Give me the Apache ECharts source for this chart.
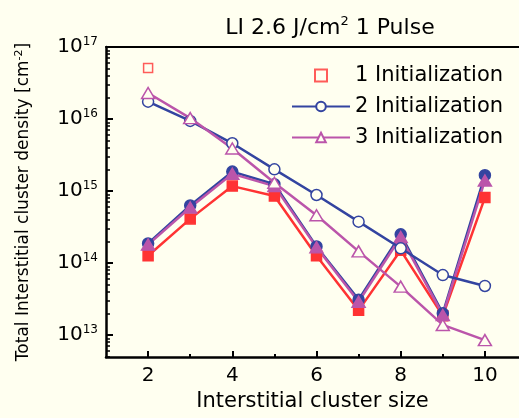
<!DOCTYPE html>
<html>
<head>
<meta charset="utf-8">
<script src="https://cdn.jsdelivr.net/npm/echarts@6/dist/echarts.min.js"></script>
<style>
html,body{margin:0;padding:0;background:#fffff0;}
#chart{width:519px;height:418px;}
</style>
</head>
<body>
<div id="chart"></div>
<script>
// ---- data ----
const xs = [2, 3, 4, 5, 6, 7, 8, 9, 10];
const init1OpenX = [2];
const init1Open = [5.1e16];
const init2Open = [1.74e16, 9.4e15, 4.6e15, 2.0e15, 8.8e14, 3.75e14, 1.6e14, 6.8e13, 4.8e13];
const init3Open = [2.3e16, 1.03e16, 3.9e15, 1.3e15, 4.6e14, 1.45e14, 4.7e13, 1.38e13, 8.5e12];
const init1Filled = [1.26e14, 4.1e14, 1.17e15, 8.5e14, 1.26e14, 2.2e13, 1.5e14, 1.85e13, 8.1e14];
const init2Filled = [1.87e14, 6.3e14, 1.86e15, 1.24e15, 1.7e14, 3.1e13, 2.5e14, 2.0e13, 1.66e15];
const init3Filled = [1.8e14, 5.9e14, 1.73e15, 1.17e15, 1.65e14, 2.9e13, 2.3e14, 1.9e13, 1.4e15];
const xMajorTicks = [2, 4, 6, 8, 10];
const xMinorTicks = [3, 5, 7, 9];
const yMajorTicks = [1e13, 1e14, 1e15, 1e16, 1e17];
const yMinorTicks = [];
[1e12, 1e13, 1e14, 1e15, 1e16].forEach(d => { for (let k = 2; k <= 9; k++) { const v = d * k; if (v > 4.95e12 && v < 1e17) yMinorTicks.push(v); } });

const BG = '#fffff0';
const RED = '#ff3333';
const BLUE = '#3344a0';
const MAG = '#bb55aa';
const FONT = 'DejaVu Sans';

const pairs = (xv, yv) => xv.map((x, i) => [x, yv[i]]);

const chart = echarts.init(document.getElementById('chart'), null, {renderer: 'canvas'});

function lineSeries(name, data, color, symbol, size, filled) {
  return {
    name: name, type: 'line', data: data,
    symbol: symbol, symbolSize: size,
    lineStyle: {color: color, width: 2.5},
    itemStyle: {color: filled ? color : BG, borderColor: color, borderWidth: 1.5},
    emphasis: {disabled: true},
    z: filled ? 2 : 3
  };
}

const option = {
  backgroundColor: BG,
  animation: false,
  textStyle: {fontFamily: FONT},
  title: {
    text: '{t|LI 2.6 J/cm}{s|2}{t| 1 Pulse}',
    left: 325, top: 10, textAlign: 'center',
    textStyle: {
      rich: {
        t: {fontFamily: FONT, fontSize: 22, color: '#000', lineHeight: 26, fontWeight: 'normal'},
        s: {fontFamily: FONT, fontSize: 13, color: '#000', lineHeight: 13, verticalAlign: 'top', fontWeight: 'normal'}
      }
    }
  },
  legend: {
    orient: 'vertical', left: 286, top: 60,
    itemWidth: 58, itemHeight: 12, itemGap: 10,
    textStyle: {fontFamily: FONT, fontSize: 21, color: '#000', lineHeight: 21},
    data: [
      {name: '1 Initialization', icon: 'path://M0,0h10v10h-10z'},
      '2 Initialization', '3 Initialization'
    ]
  },
  grid: {left: 106, top: 47, right: 0, height: 310},
  xAxis: [{
    type: 'value', min: 1, max: 10.81, position: 'bottom',
    name: 'Interstitial cluster size', nameLocation: 'middle', nameGap: 33,
    nameTextStyle: {fontFamily: FONT, fontSize: 21, color: '#000'},
    axisLine: {onZero: false, lineStyle: {color: '#000', width: 2.5}},
    axisTick: {inside: true, length: 6, customValues: xMajorTicks, lineStyle: {color: '#000', width: 2}},
    axisLabel: {customValues: xMajorTicks, margin: 9, fontFamily: FONT, fontSize: 20, color: '#000'},
    splitLine: {show: false}
  }, {
    type: 'value', min: 1, max: 10.81, position: 'bottom',
    axisLine: {show: false, onZero: false},
    axisTick: {inside: true, length: 3, customValues: xMinorTicks, lineStyle: {color: '#000', width: 2}},
    axisLabel: {show: false},
    splitLine: {show: false}
  }, {
    type: 'value', min: 1, max: 10.81, position: 'top',
    axisLine: {show: true, onZero: false, lineStyle: {color: '#000', width: 2}},
    axisTick: {show: false},
    axisLabel: {show: false},
    splitLine: {show: false}
  }],
  yAxis: [{
    type: 'log', logBase: 10, min: 4.95e12, max: 1e17, position: 'left',
    name: '{n|Total Interstitial cluster density [cm}{s|-2}{n|]}',
    nameLocation: 'middle', nameGap: 72, nameRotate: 90,
    nameTextStyle: {
      rich: {
        n: {fontFamily: FONT, fontSize: 17, color: '#000', lineHeight: 20},
        s: {fontFamily: FONT, fontSize: 11, color: '#000', lineHeight: 11, verticalAlign: 'top'}
      }
    },
    axisLine: {onZero: false, lineStyle: {color: '#000', width: 2.5}},
    axisTick: {inside: true, length: 7, customValues: yMajorTicks, lineStyle: {color: '#000', width: 2}},
    axisLabel: {
      customValues: yMajorTicks, margin: 8,
      formatter: v => '{b|10}{s|' + Math.round(Math.log10(v)) + '}',
      rich: {
        b: {fontFamily: FONT, fontSize: 20, color: '#000', lineHeight: 22},
        s: {fontFamily: FONT, fontSize: 12, color: '#000', lineHeight: 12, verticalAlign: 'top'}
      }
    },
    splitLine: {show: false}
  }, {
    type: 'log', logBase: 10, min: 4.95e12, max: 1e17, position: 'left',
    axisLine: {show: false, onZero: false},
    axisTick: {inside: true, length: 4, customValues: yMinorTicks, lineStyle: {color: '#000', width: 1.5}},
    axisLabel: {show: false},
    splitLine: {show: false}
  }],
  series: [
    lineSeries('1 Filled', pairs(xs, init1Filled), RED, 'rect', 10, true),
    lineSeries('2 Filled', pairs(xs, init2Filled), BLUE, 'circle', 11, true),
    lineSeries('3 Filled', pairs(xs, init3Filled), MAG, 'triangle', [13, 11], true),
    lineSeries('2 Initialization', pairs(xs, init2Open), BLUE, 'circle', 11, false),
    lineSeries('3 Initialization', pairs(xs, init3Open), MAG, 'triangle', [13, 11], false),
    {
      name: '1 Initialization', type: 'scatter', data: pairs(init1OpenX, init1Open),
      symbol: 'rect', symbolSize: 9,
      itemStyle: {color: BG, borderColor: RED, borderWidth: 1.5},
      emphasis: {disabled: true}, z: 4
    }
  ]
};
chart.setOption(option);
</script>
</body>
</html>
